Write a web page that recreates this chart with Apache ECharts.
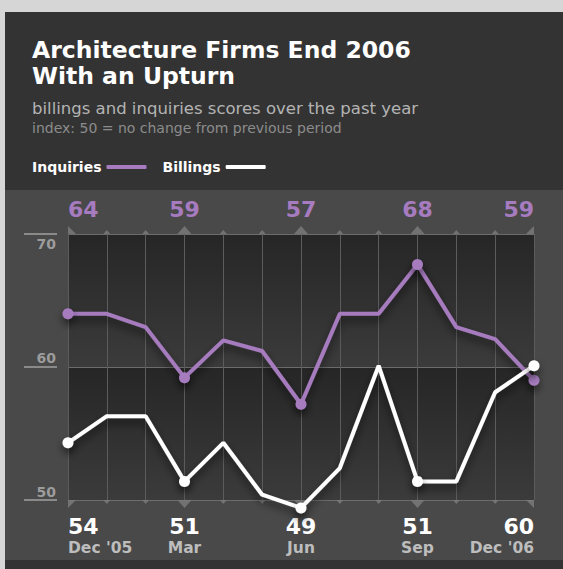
<!DOCTYPE html>
<html>
<head>
<meta charset="utf-8">
<script src="https://cdn.jsdelivr.net/npm/echarts@6/dist/echarts.min.js"></script>
<style>
html,body{margin:0;padding:0;background:#d6d6d6;}
#c{width:563px;height:569px;}
</style>
</head>
<body>
<div id="c"></div>
<script>
// ---- data ----
const months = ["Dec '05", 'Jan', 'Feb', 'Mar', 'Apr', 'May', 'Jun', 'Jul', 'Aug', 'Sep', 'Oct', 'Nov', "Dec '06"];
const inquiries = [64, 64, 63, 59.2, 62, 61.2, 57.2, 64, 64, 67.7, 63, 62.1, 59];
const billings = [54.3, 56.3, 56.3, 51.4, 54.3, 50.4, 49.4, 52.4, 60.1, 51.4, 51.4, 58.1, 60.1];
const labelledIdx = [0, 3, 6, 9, 12];
const yTicks = [50, 60, 70];

const FONT = 'DejaVu Sans, Liberation Sans, sans-serif';
const PURPLE = '#a67bbf';
const TRI = '#7d7d7d';

const chart = echarts.init(document.getElementById('c'), null, {renderer: 'svg'});

const isLab = i => labelledIdx.indexOf(i) >= 0;
const last = months.length - 1;

function triData(yVal, top) {
  return months.map((m, i) => {
    let symbol, size, offset;
    const dir = top ? -1 : 1;
    if (i === 0) {
      symbol = top ? 'path://M0,0 L0,8 L8,8 Z' : 'path://M0,0 L8,0 L0,8 Z';
      size = [8, 8]; offset = [4, 4 * dir];
    } else if (i === last) {
      symbol = top ? 'path://M8,0 L8,8 L0,8 Z' : 'path://M0,0 L8,0 L8,8 Z';
      size = [8, 8]; offset = [-4, 4 * dir];
    } else if (isLab(i)) {
      symbol = top ? 'triangle' : 'path://M0,0 L14,0 L7,8 Z';
      size = [14, 8]; offset = [0, 4 * dir];
    } else {
      symbol = top ? 'triangle' : 'path://M0,0 L14,0 L7,8 Z';
      size = [7, 4]; offset = [0, 2 * dir];
    }
    return {value: [i, yVal], symbol: symbol, symbolSize: size, symbolOffset: offset};
  });
}

const bandGrad = new echarts.graphic.LinearGradient(0, 0, 0, 1, [
  {offset: 0, color: '#262626'},
  {offset: 1, color: '#3b3b3b'}
]);

const lineShadow = {shadowColor: 'rgba(0,0,0,0.6)', shadowBlur: 8, shadowOffsetY: 5};

const option = {
  animation: false,
  textStyle: {fontFamily: FONT},
  graphic: [
    {type: 'rect', z: -100, shape: {x: 5, y: 12, width: 558, height: 178}, style: {fill: '#333333'}},
    {type: 'rect', z: -100, shape: {x: 5, y: 190, width: 558, height: 370}, style: {fill: '#494949'}},
    {type: 'rect', z: -100, shape: {x: 5, y: 560, width: 558, height: 9}, style: {fill: '#333333'}}
  ],
  title: [
    {text: 'Architecture Firms End 2006\nWith an Upturn', left: 32, top: 37, padding: 0,
      textStyle: {color: '#ffffff', fontSize: 23.5, fontWeight: 'bold', lineHeight: 26, fontFamily: FONT}},
    {text: 'billings and inquiries scores over the past year', left: 32, top: 99.5, padding: 0,
      textStyle: {color: '#b4b4b4', fontSize: 16.5, fontWeight: 'normal', lineHeight: 17, fontFamily: FONT}},
    {text: 'index: 50 = no change from previous period', left: 32, top: 120.5, padding: 0,
      textStyle: {color: '#8c8c8c', fontSize: 14, fontWeight: 'normal', lineHeight: 14, fontFamily: FONT}}
  ],
  legend: {
    data: ['Inquiries', 'Billings'],
    left: 32, top: 160, padding: 0,
    align: 'right', icon: 'roundRect', itemWidth: 40, itemHeight: 4, itemGap: 16,
    textStyle: {color: '#ffffff', fontSize: 14, fontWeight: 'bold', fontFamily: FONT}
  },
  grid: {left: 68, right: 29, top: 234, bottom: 69, containLabel: false},
  xAxis: [
    {
      type: 'category', data: months, boundaryGap: false, position: 'bottom', z: 1,
      axisLine: {show: false}, axisTick: {show: false},
      splitLine: {show: true, interval: 0, lineStyle: {color: '#5c5c5c', width: 1}},
      axisLabel: {
        interval: (i) => isLab(i), showMinLabel: true, showMaxLabel: true,
        alignMinLabel: 'left', alignMaxLabel: 'right', margin: 15.4,
        formatter: (v, i) => '{v|' + Math.round(billings[i]) + '}\n{m|' + v + '}',
        rich: {
          v: {color: '#ffffff', fontSize: 22, fontWeight: 'bold', lineHeight: 22, fontFamily: FONT},
          m: {color: '#bdbdbd', fontSize: 15.5, fontWeight: 'bold', lineHeight: 20.4, fontFamily: FONT}
        }
      }
    },
    {
      type: 'category', data: months, boundaryGap: false, position: 'top',
      axisLine: {show: false}, axisTick: {show: false}, splitLine: {show: false},
      axisLabel: {
        interval: (i) => isLab(i), showMinLabel: true, showMaxLabel: true,
        alignMinLabel: 'left', alignMaxLabel: 'right', margin: 13.6,
        formatter: (v, i) => String(Math.round(inquiries[i])),
        color: PURPLE, fontSize: 22, fontWeight: 'bold', lineHeight: 22, fontFamily: FONT
      }
    }
  ],
  yAxis: {
    type: 'value', min: yTicks[0], max: yTicks[yTicks.length - 1], interval: 10, offset: 11,
    axisLine: {show: false},
    axisTick: {show: true, length: 33, lineStyle: {color: '#8a8a8a', width: 2}},
    splitLine: {show: true, lineStyle: {color: '#6c6c6c', width: 1}},
    splitArea: {show: true, areaStyle: {color: [bandGrad, bandGrad]}},
    axisLabel: {
      margin: 1,
      formatter: (v) => '{' + (v === yTicks[2] ? 'a' : (v === yTicks[1] ? 'b' : 'c')) + '|' + v + '}',
      rich: {
        a: {color: '#9c9c9c', fontSize: 14, fontWeight: 'bold', fontFamily: FONT, padding: [19, 0, 0, 0]},
        b: {color: '#9c9c9c', fontSize: 14, fontWeight: 'bold', fontFamily: FONT, padding: [0, 0, 18.6, 0]},
        c: {color: '#9c9c9c', fontSize: 14, fontWeight: 'bold', fontFamily: FONT, padding: [0, 0, 16, 0]}
      }
    }
  },
  series: [
    {
      type: 'scatter', name: 'topTicks', xAxisIndex: 0, clip: false, silent: true, z: 1,
      itemStyle: {color: TRI}, data: triData(yTicks[2], true)
    },
    {
      type: 'scatter', name: 'bottomTicks', xAxisIndex: 0, clip: false, silent: true, z: 1,
      itemStyle: {color: TRI}, data: triData(yTicks[0], false)
    },
    {
      type: 'line', name: 'Inquiries', xAxisIndex: 0, z: 3, clip: false,
      data: inquiries.map((v, i) => ({value: v, symbol: isLab(i) ? 'circle' : 'none'})),
      symbolSize: 11, showSymbol: true,
      lineStyle: Object.assign({color: PURPLE, width: 4}, lineShadow),
      itemStyle: Object.assign({color: PURPLE, borderWidth: 0}, lineShadow)
    },
    {
      type: 'line', name: 'Billings', xAxisIndex: 0, z: 4, clip: false,
      data: billings.map((v, i) => ({value: v, symbol: isLab(i) ? 'circle' : 'none'})),
      symbolSize: 11, showSymbol: true,
      lineStyle: Object.assign({color: '#ffffff', width: 4}, lineShadow),
      itemStyle: Object.assign({color: '#ffffff', borderWidth: 0}, lineShadow)
    }
  ]
};
chart.setOption(option);
</script>
</body>
</html>
